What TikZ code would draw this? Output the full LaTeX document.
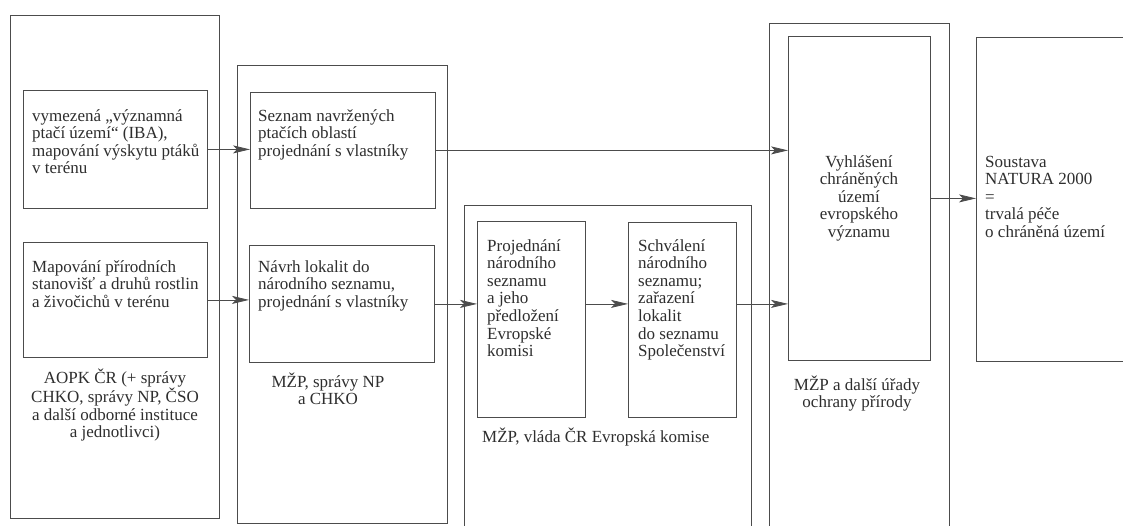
\documentclass[tikz,border=0pt]{standalone}
\usepackage{fontspec}
\setmainfont{Liberation Serif}
\usetikzlibrary{arrows.meta,calc}
\definecolor{ink}{gray}{0.18}
\definecolor{linec}{gray}{0.30}
\begin{document}
\begin{tikzpicture}[x=1pt,y=-1pt,
  box/.style={draw=linec,line width=0.8pt,rectangle,inner sep=0pt,anchor=north west},
  txt/.style={inner sep=0pt,align=left,text=ink,font=\fontsize{17}{17.6}\selectfont},
  ctxt/.style={inner sep=0pt,align=center,text=ink,font=\fontsize{17}{17.6}\selectfont},
  arr/.style={draw=linec,line width=0.8pt,-{Stealth[length=17pt,width=8pt,inset=4pt]}}]
\useasboundingbox (0,0) rectangle (1123,525);
\fill[white] (0,0) rectangle (1123,525);
\begin{scope}
\clip (0,0) rectangle (1123,525);
% outer boxes
\node[box,minimum width=209pt,minimum height=503pt] (O1) at (10,15) {};
\node[box,minimum width=210pt,minimum height=458pt] (O2) at (237,65) {};
\node[box,minimum width=287pt,minimum height=340pt] (O3) at (464,205) {};
\node[box,minimum width=180pt,minimum height=520pt] (O4) at (769,23) {};
% inner boxes
\node[box,minimum width=184pt,minimum height=118pt] (A) at (23,90) {};
\node[box,minimum width=184pt,minimum height=115pt] (B) at (23,242) {};
\node[box,minimum width=185pt,minimum height=116pt] (C) at (250,92) {};
\node[box,minimum width=185pt,minimum height=117pt] (D) at (249,245) {};
\node[box,minimum width=108pt,minimum height=196pt] (E) at (477,221) {};
\node[box,minimum width=108pt,minimum height=195pt] (F) at (628,222) {};
\node[box,minimum width=142pt,minimum height=324pt] (G) at (788,36) {};
\node[box,minimum width=170pt,minimum height=324pt] (S) at (976,37) {};
\end{scope}
% texts (base anchor = baseline of last line)
\node[txt,anchor=base west] (At) at (32,173.8) {vymezená „významná\\ptačí území“ (IBA),\\mapování výskytu ptáků\\v terénu};
\node[txt,anchor=base west] (Bt) at (32,307.2) {Mapování přírodních\\stanovišť a druhů rostlin\\a živočichů v terénu};
\node[ctxt,anchor=base] (L1) at (115,437.8) {AOPK ČR (+ správy\\CHKO, správy NP, ČSO\\a další odborné instituce\\a jednotlivci)};
\node[txt,anchor=base west] (Ct) at (258,156.2) {Seznam navržených\\ptačích oblastí\\projednání s vlastníky};
\node[txt,anchor=base west] (Dt) at (258,307.2) {Návrh lokalit do\\národního seznamu,\\projednání s vlastníky};
\node[ctxt,anchor=base] (L2) at (328,404.6) {MŽP, správy NP\\a CHKO};
\node[txt,anchor=base west] (Et) at (487,356.6) {Projednání\\národního\\seznamu\\a jeho\\předložení\\Evropské\\komisi};
\node[txt,anchor=base west] (Ft) at (638,356.6) {Schválení\\národního\\seznamu;\\zařazení\\lokalit\\do seznamu\\Společenství};
\node[txt,anchor=base west] (L3) at (482,442) {MŽP, vláda ČR Evropská komise};
\node[ctxt,anchor=base] (Gt) at (859,237.4) {Vyhlášení\\chráněných\\území\\evropského\\významu};
\node[ctxt,anchor=base] (L4) at (857,407.6) {MŽP a další úřady\\ochrany přírody};
\node[txt,anchor=base west] (St) at (985,237.4) {Soustava\\NATURA 2000\\=\\trvalá péče\\o chráněná území};
% connectors
\draw[arr] (A.east) -- (A.east -| C.west);
\draw[arr] (B.east) -- (B.east -| D.west);
\draw[arr] (C.east) -- (C.east -| G.west);
\draw[arr] (D.east) -- (D.east -| E.west);
\draw[arr] (E.east |- D.east) -- (F.west |- D.east);
\draw[arr] (F.east |- D.east) -- (G.west |- D.east);
\draw[arr] (G.east) -- (G.east -| S.west);
\end{tikzpicture}
\end{document}
